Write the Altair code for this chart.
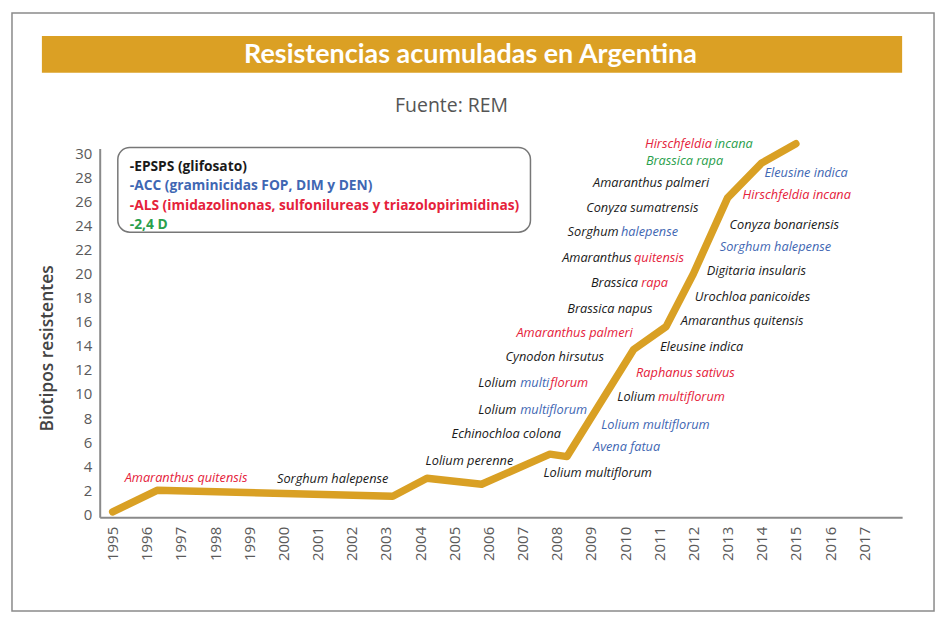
import altair as alt
import pandas as pd

# ---- data ----
years = [1995, 1996.3, 2003.2, 2004.2, 2005.8, 2007.8, 2008.3, 2010.25, 2011.2, 2012, 2013, 2014, 2015]
biotipos = [0.2, 2.0, 1.5, 3.0, 2.5, 5.0, 4.8, 13.7, 15.6, 20.0, 26.3, 29.2, 30.8]

year_ticks = list(range(1995, 2018))
y_ticks = list(range(0, 31, 2))

# annotation segments (species names, coloured by herbicide group)
seg_text = [
    "Amaranthus quitensis", "Sorghum halepense", "Lolium perenne", "Echinochloa colona",
    "Lolium", "multi", "florum",
    "Lolium", "multiflorum",
    "Cynodon hirsutus", "Amaranthus palmeri", "Brassica napus",
    "Brassica", "rapa",
    "Amaranthus", "quitensis",
    "Sorghum", "halepense",
    "Conyza sumatrensis", "Amaranthus palmeri", "Brassica rapa",
    "Hirschfeldia", "incana",
    "Lolium multiflorum", "Avena fatua", "Lolium multiflorum",
    "Lolium", "multiflorum",
    "Raphanus sativus", "Eleusine indica", "Amaranthus quitensis", "Urochloa panicoides",
    "Digitaria insularis", "Sorghum halepense", "Conyza bonariensis", "Hirschfeldia incana",
    "Eleusine indica",
]
seg_group = [
    "ALS", "EPSPS", "EPSPS", "EPSPS",
    "EPSPS", "ACC", "ALS",
    "EPSPS", "ACC",
    "EPSPS", "ALS", "EPSPS",
    "EPSPS", "ALS",
    "EPSPS", "ALS",
    "EPSPS", "ACC",
    "EPSPS", "EPSPS", "24D",
    "ALS", "24D",
    "EPSPS", "ACC", "ACC",
    "EPSPS", "ALS",
    "ALS", "EPSPS", "EPSPS", "EPSPS",
    "EPSPS", "ACC", "EPSPS", "ALS",
    "ACC",
]
seg_x = [
    1995.35, 1999.81, 2004.16, 2004.92,
    2006.82, 2006.93, 2007.81,
    2006.82, 2006.93,
    2006.50, 2006.82, 2008.31,
    2010.38, 2010.47,
    2010.19, 2010.26,
    2009.81, 2009.88,
    2008.86, 2009.06, 2010.61,
    2012.54, 2012.62,
    2007.61, 2009.06, 2009.30,
    2010.89, 2010.96,
    2010.32, 2011.02, 2011.63, 2012.04,
    2012.39, 2012.77, 2013.06, 2013.44,
    2014.08,
]
seg_y = [
    3.0, 2.9, 4.39, 6.71,
    10.94, 10.94, 10.94,
    8.70, 8.70,
    13.09, 15.08, 17.07,
    19.22, 19.22,
    21.29, 21.29,
    23.45, 23.45,
    25.43, 27.51, 29.33,
    30.74, 30.74,
    3.40, 5.63, 7.46,
    9.78, 9.78,
    11.76, 13.92, 16.07, 18.06,
    20.22, 22.20, 24.03, 26.51,
    28.33,
]
seg_align = [
    "left", "left", "left", "left",
    "right", "left", "left",
    "right", "left",
    "left", "left", "left",
    "right", "left",
    "right", "left",
    "right", "left",
    "left", "left", "left",
    "right", "left",
    "left", "left", "left",
    "right", "left",
    "left", "left", "left", "left",
    "left", "left", "left", "left",
    "left",
]

groups = ["EPSPS", "ACC", "ALS", "24D"]
group_colors = ["#1a1a1a", "#3f67b3", "#e5223b", "#2aa04c"]

legend_text = [
    "-EPSPS (glifosato)",
    "-ACC (graminicidas FOP, DIM y DEN)",
    "-ALS (imidazolinonas, sulfonilureas y triazolopirimidinas)",
    "-2,4 D",
]
legend_group = ["EPSPS", "ACC", "ALS", "24D"]
legend_x = [1995.50] * 4
legend_y = [28.83, 27.26, 25.60, 24.03]
legend_box = {"x": [1995.15], "x2": [2007.23], "y": [30.49], "y2": [23.45]}

title_text = "Resistencias acumuladas en Argentina"
subtitle_text = "Fuente: REM"
y_title = "Biotipos resistentes"

# ---- chart ----
xs = alt.Scale(domain=[1994.62, 2018.11], nice=False, zero=False)
ys = alt.Scale(domain=[-0.25, 30.4], nice=False, zero=False)
cs = alt.Scale(domain=groups, range=group_colors)

ax_x = alt.Axis(
    values=year_ticks, format="d", labelAngle=-90, labelAlign="right", labelBaseline="middle",
    labelFont="Open Sans", labelFontSize=15, labelColor="#5a5a5a", labelPadding=9,
    ticks=False, grid=False, domainColor="#8a8a8a", domainWidth=2, title=None,
    labelOverlap=False, zindex=1)
ax_y = alt.Axis(
    values=y_ticks, labelFont="Open Sans", labelFontSize=15, labelColor="#5a5a5a",
    labelPadding=8, ticks=False, grid=False, domainColor="#8a8a8a", domainWidth=2,
    title=y_title, titleFont="Open Sans", titleFontSize=17.5, titleFontWeight=600,
    titleColor="#444444", titleX=-52, titleY=200, titleAngle=-90,
    titleAlign="center", titleBaseline="middle", labelOverlap=False, zindex=1)

line_df = pd.DataFrame({"x": years, "y": biotipos})
seg_df = pd.DataFrame({"x": seg_x, "y": seg_y, "t": seg_text, "g": seg_group, "a": seg_align})
leg_df = pd.DataFrame({"x": legend_x, "y": legend_y, "t": legend_text, "g": legend_group})
box_df = pd.DataFrame(legend_box)
one = alt.Data(values=[{"k": 1}])

X = alt.X("x:Q", scale=xs, axis=ax_x)
Y = alt.Y("y:Q", scale=ys, axis=ax_y)

frame = alt.Chart(one).mark_rect(fill="transparent", stroke="#8a8a8a", strokeWidth=1.5).encode(
    x=alt.value(-88), x2=alt.value(837), y=alt.value(-136), y2=alt.value(464)
)
band = alt.Chart(one).mark_rect(fill="#dba024").encode(
    x=alt.value(-58), x2=alt.value(805), y=alt.value(-113), y2=alt.value(-76)
)
title = alt.Chart(one).mark_text(
    font="Lato", fontSize=27, fontWeight="bold", color="white", align="center", baseline="middle"
).encode(x=alt.value(372), y=alt.value(-94), text=alt.value(title_text))
subtitle = alt.Chart(one).mark_text(
    font="Open Sans", fontSize=19.5, color="#555555", align="center", baseline="middle"
).encode(x=alt.value(353), y=alt.value(-43), text=alt.value(subtitle_text))

line = alt.Chart(line_df).mark_line(
    color="#d9a024", strokeWidth=7.5, strokeCap="round", strokeJoin="round"
).encode(x=X, y=Y)

box = alt.Chart(box_df).mark_rect(
    fill="white", stroke="#777777", strokeWidth=1.5, cornerRadius=12
).encode(x=X, x2="x2:Q", y=Y, y2="y2:Q")

leg = alt.Chart(leg_df).mark_text(
    font="Open Sans", fontSize=13.8, fontWeight="bold", align="left", baseline="middle"
).encode(x=X, y=Y, text="t:N", color=alt.Color("g:N", scale=cs, legend=None))

def seg_layer(al):
    return alt.Chart(seg_df).transform_filter(alt.datum.a == al).mark_text(
        font="Open Sans", fontSize=12.8, fontStyle="italic", align=al, baseline="middle"
    ).encode(x=X, y=Y, text="t:N", color=alt.Color("g:N", scale=cs, legend=None))

chart = alt.layer(
    frame, band, title, subtitle, box, leg, line, seg_layer("left"), seg_layer("right")
).properties(
    width=805, height=370,
    autosize=alt.AutoSizeParams(type="none"),
    padding={"left": 92, "top": 140, "right": 40, "bottom": 100},
    background="white",
).configure_view(stroke=None)

chart.save("out.html", embed_options={"renderer": "svg", "actions": False})
